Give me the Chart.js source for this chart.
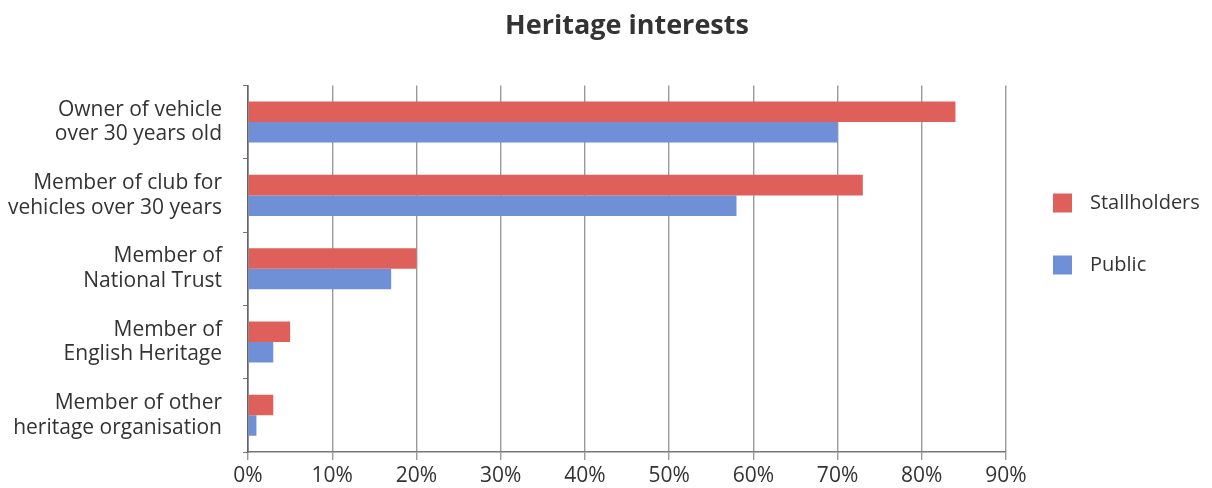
<!DOCTYPE html>
<html>
<head>
<meta charset="utf-8">
<script src="https://cdn.jsdelivr.net/npm/chart.js@4.4.1/dist/chart.umd.min.js"></script>
<style>
  html, body { margin: 0; padding: 0; background: #ffffff; }
  #wrap { width: 1212px; height: 488px; }
</style>
</head>
<body>
<div id="wrap"><canvas id="chart" width="1212" height="488"></canvas></div>
<script>
// Survey categories (two-line labels) and the share answering yes, in percent
const categories = [
  ["Owner of vehicle", "over 30 years old"],
  ["Member of club for", "vehicles over 30 years"],
  ["Member of", "National Trust"],
  ["Member of", "English Heritage"],
  ["Member of other", "heritage organisation"]
];
const seriesNames = ["Stallholders", "Public"];
const stallholders = [84, 73, 20, 5, 3];
const publicVisitors = [70, 58, 17, 3, 1];
const xTickValues = [0, 10, 20, 30, 40, 50, 60, 70, 80, 90];

const FONT = "'Open Sans', 'DejaVu Sans', sans-serif";
const TEXT = "#333333";
const RED = "#df605b";
const BLUE = "#6f90d6";

// Legend drawn at the right, beside the plot
const sideLegend = {
  id: "sideLegend",
  afterDraw(chart, args, opts) {
    const ctx = chart.ctx;
    ctx.save();
    ctx.font = `${opts.fontSize}px ${FONT}`;
    ctx.textBaseline = "middle";
    ctx.textAlign = "left";
    chart.data.datasets.forEach((ds, i) => {
      const cy = opts.top + i * opts.gap;
      ctx.fillStyle = ds.backgroundColor;
      ctx.fillRect(opts.x, cy - opts.box / 2, opts.box, opts.box);
      ctx.fillStyle = TEXT;
      ctx.fillText(ds.label, opts.textX, cy);
    });
    ctx.restore();
  }
};

new Chart(document.getElementById("chart"), {
  type: "bar",
  data: {
    labels: categories,
    datasets: [
      { label: seriesNames[0], data: stallholders, backgroundColor: RED },
      { label: seriesNames[1], data: publicVisitors, backgroundColor: BLUE }
    ]
  },
  options: {
    indexAxis: "y",
    responsive: false,
    animation: false,
    devicePixelRatio: 1,
    categoryPercentage: 0.56,
    barPercentage: 1.0,
    layout: { padding: { top: 10, right: 206, bottom: 0, left: 0 } },
    plugins: {
      legend: { display: false },
      tooltip: { enabled: false },
      title: {
        display: true,
        fullSize: false,
        text: "Heritage interests",
        color: TEXT,
        font: { family: FONT, size: 27, weight: "bold" },
        padding: { top: 0, bottom: 43 }
      },
      sideLegend: { x: 1053, textX: 1090, top: 203, gap: 62, box: 19, fontSize: 20 }
    },
    scales: {
      x: {
        type: "linear",
        min: 0,
        max: 90,
        afterBuildTicks(scale) {
          scale.ticks = xTickValues.map(v => ({ value: v }));
        },
        afterFit(scale) {
          scale.height = 36;
          scale.paddingLeft = 0;
          scale.paddingRight = 0;
        },
        ticks: {
          color: TEXT,
          font: { family: FONT, size: 21 },
          padding: 3,
          callback: v => v + "%"
        },
        grid: { color: "#9a9a9a", lineWidth: 1.4, tickLength: 8, drawTicks: true },
        border: { color: "#777777", width: 1.6 }
      },
      y: {
        type: "category",
        afterFit(scale) {
          scale.width = 248;
          scale.paddingTop = 0;
          scale.paddingBottom = 0;
        },
        ticks: {
          color: TEXT,
          font: { family: FONT, size: 21, lineHeight: 1.18 },
          padding: 21
        },
        grid: { display: true, drawOnChartArea: false, drawTicks: true, tickLength: 5, color: "#777777", offset: true },
        border: { color: "#666666", width: 1.6 }
      }
    }
  },
  plugins: [sideLegend]
});
</script>
</body>
</html>
